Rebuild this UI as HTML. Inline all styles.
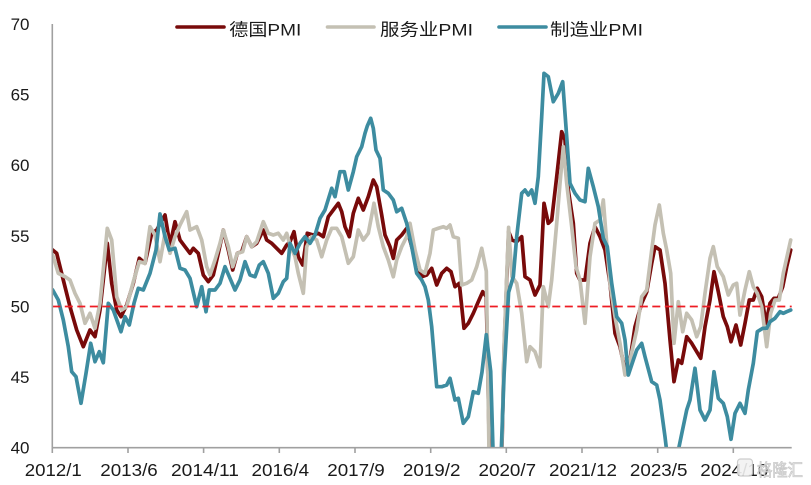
<!DOCTYPE html>
<html>
<head>
<meta charset="utf-8">
<style>
  html, body { margin: 0; padding: 0; background: #ffffff; width: 811px; height: 485px; overflow: hidden; }
  svg { display: block; overflow: hidden; }
  text { font-family: "Liberation Sans", "Noto Sans CJK SC", sans-serif; fill: #1a1a1a; }
</style>
</head>
<body>
<svg width="811" height="485" viewBox="0 0 811 485" xmlns="http://www.w3.org/2000/svg">
  <rect x="0" y="0" width="811" height="485" fill="#ffffff"/>
  <defs>
    <clipPath id="plot">
      <rect x="52" y="0" width="745" height="447.7"/>
    </clipPath>
  </defs>

  <!-- Y axis labels -->
  <g font-size="17" text-anchor="end">
    <text x="29.5" y="30">70</text>
    <text x="29.5" y="100.6">65</text>
    <text x="29.5" y="171.2">60</text>
    <text x="29.5" y="241.9">55</text>
    <text x="29.5" y="312.5">50</text>
    <text x="29.5" y="383.1">45</text>
    <text x="29.5" y="453.7">40</text>
  </g>

  <!-- Series -->
  <g clip-path="url(#plot)" fill="none" stroke-width="3.7" stroke-linejoin="round" stroke-linecap="round">
    <polyline stroke="#780a0a" points="52.7,250 56.7,253.3 63.3,280 70,306.7 76.7,330 83.3,346.7 90,330 95,336.7 100,310 107.3,243.3 111.7,283.3 116.7,310 121,316.7 126.7,305 133.3,283.3 139.3,258.3 145,263.3 151.7,233.3 156.7,230 165,215 170,245 175,221.7 180,240 185,246.7 190,253.3 193.3,248.3 198.3,253.3 203.3,275 208.3,281.7 213.3,275 218.3,253.3 223.3,230 228.3,250 232.7,270 237.3,253.3 241.7,251.7 246.7,236.7 251.7,246.7 256.7,243.3 263.3,230 266.7,240 271.7,243.3 276.7,248.3 281.7,253.3 286.7,245 290,241.7 294,231.7 298.3,256.7 302.7,265 307.3,233.3 313.3,235 318.3,233.3 323.3,236.7 328.3,216.7 333.3,210 338.3,203.3 341.7,211.7 345,226.7 349.3,236.7 353.3,213.3 358.3,198.3 363.3,210 368.3,196.7 373.3,180 376.7,186.7 381.7,215 385,235 390,246.7 393.3,258.3 396.7,240 401.7,235 406.7,228.3 411.7,246.7 416.7,263.3 421.7,276.7 426.7,275 431.7,268.3 436.7,285 441.7,273.3 446.7,268.3 451,271.7 455,286.7 459.3,283.3 464,328.3 468.3,323.3 473.3,313.3 478.3,301.7 482.7,291.7 486.3,296.6 489.55,460 501.7,460 504.1,348.8 508.6,231.6 512,240 516.7,241.7 521.7,236.7 525,276.7 530,280 535,295 540,285 544,203.3 548.3,223.3 551.7,220 556.7,176.7 561.7,131.7 565,140 568.3,190 573.3,223.3 576.7,273.3 580,280 585,280 590,243.3 595,226.7 600,236.7 605,250 610,283.3 615,333.3 620,346.7 625,370 630,360 635,326.7 641.7,303.3 646.7,292 651.7,263.3 655,246.7 660,250 665,283.3 670,340 674,381.7 678.3,360 681.7,363.3 686.7,336.7 691.7,343.3 696.7,351.7 700.7,358.3 705,326.7 710,300 714,271.7 718.3,291.7 723.3,316.7 727.3,326.7 731,341.7 736,325 740.7,345 745,323.3 749.3,300 753.3,300 757.3,288.3 761.7,296.7 766,323.3 770,303.3 774,298.3 778.3,298.3 782.7,286.7 786.7,266.7 790.7,250"/>
    <polyline stroke="#c4c0b3" points="52.7,255 58.3,273.3 65,276.7 70,280 75,293.3 80,303.3 85,323.3 90,313.3 95,328.3 100,303.3 107.3,228.3 111.7,240 116.7,296.7 121.7,310 126.7,306.7 133.3,281.7 139.3,261.7 145,263.3 150,226.7 155,235 160,261.7 165,233.3 170,253.3 175,236.7 180,225 186.7,211.7 190,230 196.7,226.7 201.7,240 206.7,266.7 210,275 215,260 220,243.3 223.3,230 228.3,246.7 232.7,266.7 237.3,253.3 242.7,251.7 246.7,236.7 251.7,246.7 256.7,241.7 263.3,221.7 268.3,233.3 273.3,235 278.3,233.3 283.3,240 286.7,233.3 290,245 295,256.7 298.3,273.3 303.3,293.3 306.7,246.7 311.7,236.7 316.7,240 321.7,256.7 326.7,240 331.7,228.3 336.7,228.3 341.7,236.7 348.3,263.3 353.3,256.7 358.3,230 363.3,240 368.3,233.3 374,203.3 378.3,226.7 383.3,246.7 388.3,260 393.3,276.7 396.7,260 401.7,246.7 406.7,236.7 410,223.3 415,250 420,270 425,273.3 430,253.3 433.3,230 438.3,228.3 443.3,226.7 446.7,228.3 450,225 453.3,236.7 458.3,238.3 461.7,285 466.7,283.3 471.7,280 476.7,266.7 481.7,248.3 486.3,271.2 489.13,460 501.6,460 504.1,344.6 508.6,227.4 512,276.7 516.7,283.3 521.7,313.3 526.7,361.7 530,346.7 535,351.7 540,366.7 543.3,286.7 548.3,306.7 551.7,280 556.7,223.3 560,183.3 563.3,146.7 566.7,183.3 571.7,226.7 576,266.7 580,280 585,323.3 590,256.7 595,223.3 600,220 603.3,200 606.7,243.3 610,283.3 615,316.7 620,343.3 625,375 630,360 636.7,330 641.7,296.7 646.7,290 651.7,250 655,225 659.3,205 663.3,233.3 666.7,250 670.7,273.3 674,343.3 678.3,301.7 682.7,331.7 686.7,313.3 691.7,320 696.7,336.7 700.7,326.7 705,293.3 710,258.3 713.3,246.7 717.3,266.7 723.3,276.7 728.3,295 733.3,285 736.7,283.3 740,315 745,290 749.3,271.7 753.3,286.7 757.3,293.3 761.7,306.7 766.7,346.7 770.7,313.3 775,300 779.3,300 783.3,273.3 790.7,240"/>
    <polyline stroke="#3d8ca0" points="52.7,290 58.3,300 63.3,320 68.3,346.7 71.7,371.7 76,376.7 81,403.3 86,373.3 90.7,343.3 95,361.7 99.3,351.7 103.3,362.7 108.3,303.3 113.3,310 121,331.7 125,316.7 129.3,325 134,303.3 138.3,288.3 143.3,290 150,273.3 156,250 160,214 165,236.7 169.3,250 175,248.3 180,268.3 185,270 190,278.3 196.7,306.7 201.7,286.7 206,311.7 209.3,290 215,290 220,283.3 225,266.7 230,278.3 235,290 240,280 245,261.7 250,275 255,276.7 259.3,265 263.3,261.7 268.3,273.3 273.3,298.3 278.3,293.3 283.3,281.7 286.7,278.3 290,243.3 295,253.3 300,243.3 305,236.7 310,243.3 315,235 320,218.3 325,210 331.7,188.3 335,196.7 340,171.7 344.3,171.7 348.3,190 353.3,171.7 356.7,156.7 361.7,146.7 365,133.3 367.3,126 370.7,118.3 373.3,128.3 376,150 380,158.3 383.3,190 388.3,193.3 393.3,200 396.7,211.7 401.7,208.3 406.7,223.3 411.7,246.7 416.7,273.3 421.7,280 425,286.7 428.3,300 431.7,326.7 436.7,386.7 441.7,386.7 446.7,385 450,378.3 455,400 458.3,398.3 463.3,423.3 468.3,416.7 473.3,391.7 478.3,393.3 482,372 486.3,334.7 490.7,371.5 493.29,460 500.93,460 504.1,374.3 508.6,292.4 513.3,276.7 516.7,236.7 521.7,193.3 525,190 528.3,195 531.7,190 535,203.3 538.3,176.7 541.7,116.7 544,73.3 548.3,76.7 553.3,101.7 558.3,93.3 562.7,81.7 566.7,136.7 570,183.3 575,193.3 580,200 585,201.7 588.3,168.3 593.3,186.7 598.3,206.7 603.3,238.3 607.3,246.7 611.7,283.3 616.7,316.7 621.7,323.3 625,340 628.3,375 633.3,360 636.7,350 641.7,343.3 645,356.7 651.7,381.7 656.7,385 660,400 665,436.7 667.5,458 673.2,458 677.7,453.3 682.1,432 686.7,410 690,400 695,368.3 700,410 705,420 710,410 714,371.7 718.3,398.3 723.3,403.3 727.3,416.7 731,439.3 735,413.3 740,403.3 745,413.3 748.3,390 753.3,363.3 757.3,331.7 762.7,328.3 766.7,328.3 770,321.7 775,318.3 780,311.7 783.3,313.3 786.7,311.7 790.7,310"/>
  </g>

  <!-- 50 reference line -->
  <line x1="52.3" y1="306.5" x2="791.7" y2="306.5" stroke="#ee1c24" stroke-width="1.8" stroke-dasharray="8,4.5"/>

  <!-- Axes -->
  <line x1="52.3" y1="24" x2="52.3" y2="448.5" stroke="#a0a0a0" stroke-width="1.6"/>
  <line x1="51.5" y1="447.7" x2="791.7" y2="447.7" stroke="#a0a0a0" stroke-width="1.6"/>
  <g stroke="#a0a0a0" stroke-width="1.6">
    <line x1="52.3" y1="447.7" x2="52.3" y2="453"/>
    <line x1="128" y1="447.7" x2="128" y2="453"/>
    <line x1="203.6" y1="447.7" x2="203.6" y2="453"/>
    <line x1="279.3" y1="447.7" x2="279.3" y2="453"/>
    <line x1="355" y1="447.7" x2="355" y2="453"/>
    <line x1="430.7" y1="447.7" x2="430.7" y2="453"/>
    <line x1="506.3" y1="447.7" x2="506.3" y2="453"/>
    <line x1="582" y1="447.7" x2="582" y2="453"/>
    <line x1="657.7" y1="447.7" x2="657.7" y2="453"/>
    <line x1="733.3" y1="447.7" x2="733.3" y2="453"/>
  </g>

  <!-- X axis labels -->
  <g font-size="17.5" text-anchor="middle">
    <text x="53.3" y="476" textLength="57" lengthAdjust="spacingAndGlyphs">2012/1</text>
    <text x="129" y="476" textLength="57.5" lengthAdjust="spacingAndGlyphs">2013/6</text>
    <text x="205" y="476" textLength="68" lengthAdjust="spacingAndGlyphs">2014/11</text>
    <text x="280.3" y="476" textLength="57.5" lengthAdjust="spacingAndGlyphs">2016/4</text>
    <text x="356" y="476" textLength="57.5" lengthAdjust="spacingAndGlyphs">2017/9</text>
    <text x="431.7" y="476" textLength="57.5" lengthAdjust="spacingAndGlyphs">2019/2</text>
    <text x="507.3" y="476" textLength="57.5" lengthAdjust="spacingAndGlyphs">2020/7</text>
    <text x="583" y="476" textLength="68" lengthAdjust="spacingAndGlyphs">2021/12</text>
    <text x="658.7" y="476" textLength="57.5" lengthAdjust="spacingAndGlyphs">2023/5</text>
    <text x="734.3" y="476" textLength="68" lengthAdjust="spacingAndGlyphs">2024/10</text>
  </g>

  <!-- Watermark -->
  <g opacity="0.9">
    <rect x="737.5" y="459" width="15" height="17" rx="3" fill="#f2f2f2" stroke="#c8c8c8" stroke-width="1.2"/>
    <text x="757" y="476" font-size="17" style="fill:#ececec;stroke:#c4c4c4;stroke-width:0.8;" textLength="46" lengthAdjust="spacingAndGlyphs">格隆汇</text>
  </g>

  <!-- Legend -->
  <g stroke-width="3.6" stroke-linecap="round">
    <line x1="177" y1="27" x2="224" y2="27" stroke="#780a0a"/>
    <line x1="327.5" y1="27" x2="374" y2="27" stroke="#c4c0b3"/>
    <line x1="499" y1="27" x2="546" y2="27" stroke="#3d8ca0"/>
  </g>
  <g font-size="17">
    <text x="229.3" y="35.5" textLength="72" lengthAdjust="spacingAndGlyphs">德国PMI</text>
    <text x="380" y="35.5" textLength="93" lengthAdjust="spacingAndGlyphs">服务业PMI</text>
    <text x="550" y="35.5" textLength="93" lengthAdjust="spacingAndGlyphs">制造业PMI</text>
  </g>
</svg>
</body>
</html>
